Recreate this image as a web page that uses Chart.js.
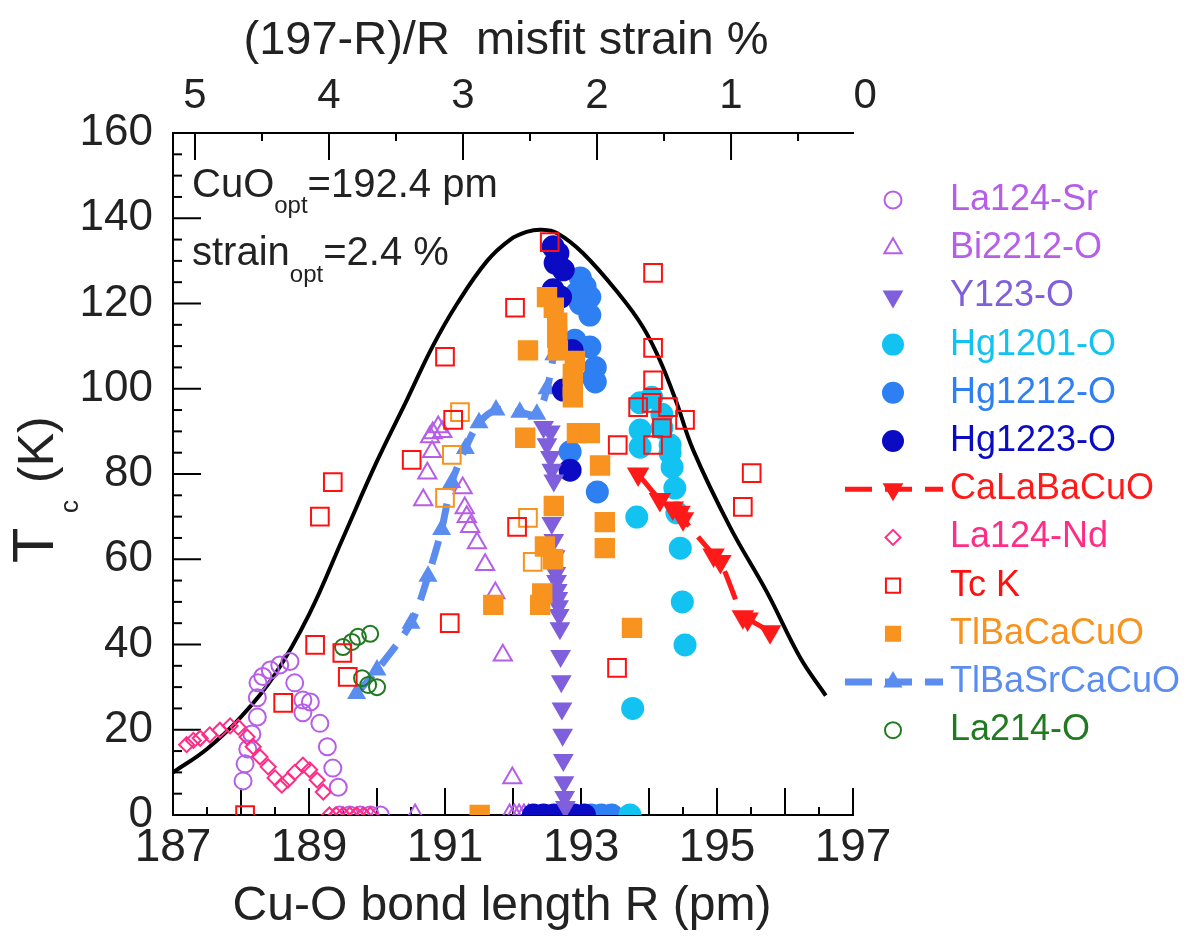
<!DOCTYPE html>
<html>
<head>
<meta charset="utf-8">
<script src="https://cdn.jsdelivr.net/npm/chart.js@4.4.1/dist/chart.umd.min.js"></script>
<style>
  html, body { margin: 0; padding: 0; background: #fff; }
  #wrap { width: 1196px; height: 948px; position: relative; }
</style>
</head>
<body>
<div id="wrap"><canvas id="tcChart"></canvas></div>
<script>
const FONT = '"Liberation Sans", Arial, Helvetica, sans-serif';

// guide curve (bell shape)
const curveR  = [187.0, 187.5, 188.0, 188.5, 189.0, 189.5, 190.0, 190.44, 190.82, 191.18, 191.62, 191.96, 192.2, 192.42, 192.65, 193.03, 193.57, 193.91, 194.16, 194.4, 194.65, 195.19, 195.74, 196.22, 196.6];
const curveTc = [10, 15.5, 23, 33, 47, 65, 83, 97.4, 110, 120, 130, 135, 136.8, 137.3, 136.5, 131.8, 122, 114.5, 106.7, 97, 85.6, 67.6, 52.1, 37, 28];

const la124SrR  = [188.03, 188.06, 188.1, 188.16, 188.24, 188.24, 188.25, 188.32, 188.43, 188.57, 188.72, 188.79, 188.91, 189.02, 188.91, 189.16, 189.27, 189.35, 189.43, 189.45, 189.6, 189.75, 189.9, 190.05];
const la124SrTc = [8, 12, 15.5, 19, 23, 27.5, 31, 32.5, 34, 35.2, 36, 31, 27, 26.5, 24, 21.5, 16, 11, 6.5, 0, 0, 0, 0, 0];

const bi2212R  = [190.9, 190.82, 190.78, 190.96, 190.81, 190.74, 190.68, 191.26, 191.29, 191.32, 191.37, 191.47, 191.59, 191.74, 191.85, 191.99, 190.56, 191.95, 192.02, 192.09, 192.16, 192.23];
const bi2212Tc = [91, 89.6, 88.7, 89.9, 85.2, 80.2, 73.9, 76.7, 72, 70, 67.6, 63.8, 58.7, 52.1, 37.5, 8.7, 0, 0, 0, 0, 0, 0];

const y123R  = [192.45, 192.55, 192.5, 192.55, 192.57, 192.6, 192.57, 192.6, 192.62, 192.63, 192.64, 192.65, 192.66, 192.67, 192.68, 192.69, 192.7, 192.71, 192.72, 192.73, 192.74, 192.75, 192.76, 192.77];
const y123Tc = [91, 90, 87, 84, 81, 78.5, 68.5, 64.5, 60.7, 56.8, 54.9, 52.8, 50.9, 49, 46.9, 43.8, 37.3, 31.4, 25, 18.8, 12.9, 7.7, 4.2, 1.9];

const hg1201R  = [193.87, 194.04, 194.19, 193.87, 193.87, 194.19, 194.31, 194.31, 194.34, 194.38, 194.41, 193.82, 194.46, 194.49, 194.53, 193.76, 193.72];
const hg1201Tc = [96.7, 98, 94, 90.3, 86.3, 90.8, 86.8, 84.9, 81.6, 76.7, 70.9, 69.9, 62.6, 50, 39.9, 25, 0];

const hg1212R  = [192.99, 193.06, 192.94, 193.13, 192.99, 193.13, 192.91, 193.13, 193.21, 193.21, 193.18, 192.84, 193.24, 193.15, 193.3, 193.45];
const hg1212Tc = [126, 124, 122.5, 121.5, 120, 117.3, 111.4, 109.8, 105, 101.6, 102.5, 85.2, 75.8, 0, 0, 0];

const hg1223R  = [192.59, 192.66, 192.62, 192.74, 192.59, 192.7, 192.87, 192.74, 192.84, 192.3, 192.45, 192.6, 192.75, 192.9, 193.05];
const hg1223Tc = [133.3, 131.8, 129.5, 127.9, 123.2, 121.5, 109, 99.7, 80.9, 0, 0, 0, 0, 0, 0];

const caLaBaR  = [193.84, 194.16, 194.35, 194.45, 194.5, 194.95, 195.05, 195.38, 195.45, 195.78];
const caLaBaTc = [80, 74, 72, 71, 69.5, 61, 59.5, 46.5, 46, 43];

const la124NdR  = [187.2, 187.3, 187.4, 187.54, 187.69, 187.84, 187.96, 188.09, 188.18, 188.28, 188.4, 188.5, 188.6, 188.69, 188.79, 188.91, 189.01, 189.12, 189.21, 189.3, 189.4, 189.5, 189.6, 189.7, 189.8, 189.9];
const la124NdTc = [16.5, 17.5, 18, 18.8, 19.9, 20.9, 20.6, 18.3, 16, 13.6, 11.3, 8.7, 7, 8.2, 10, 11.7, 10.6, 8.2, 5.4, 0, 0, 0, 0, 0, 0, 0];

const tcKR  = [192.54, 194.06, 192.03, 191.0, 194.06, 194.06, 193.84, 194.04, 194.28, 194.53, 194.19, 193.54, 194.06, 195.51, 195.38, 190.51, 191.12, 192.06, 191.07, 189.35, 189.16, 189.09, 189.49, 189.57, 188.62, 188.06, 193.53];
const tcKTc = [134.4, 127.2, 119, 107.5, 109.6, 102, 95.7, 96.7, 95.7, 92.7, 90.8, 86.8, 86.8, 80.2, 72.3, 83.3, 92.7, 67.6, 45, 78.1, 70, 39.9, 38, 32.4, 26.3, 0, 34.5];

// open orange squares (not in the legend)
const tlOpenR  = [191.22, 191.1, 191.0, 192.22, 192.29];
const tlOpenTc = [94.5, 84.5, 74.4, 69.7, 59.4];

const tlBaCaR  = [192.5, 192.6, 192.65, 192.65, 192.66, 192.91, 192.88, 192.88, 192.88, 192.22, 192.18, 192.94, 193.13, 193.28, 192.6, 193.35, 192.47, 192.59, 192.43, 192.4, 191.71, 193.35, 193.75, 191.51];
const tlBaCaTc = [121.5, 119, 115.5, 112, 109, 106.5, 103.5, 100.5, 98, 109, 88.5, 89.6, 89.6, 82, 72.5, 68.7, 63, 60, 52, 49.3, 49.3, 62.6, 43.9, 0];

const tlBaSrR  = [189.7, 190.0, 190.5, 190.75, 190.95, 191.1, 191.3, 191.5, 191.75, 192.1, 192.35, 192.5, 192.6];
const tlBaSrTc = [28.5, 34, 45, 56, 67, 78, 86, 92, 95, 94.5, 94, 100, 108];

const la214R  = [189.5, 189.63, 189.72, 189.9, 189.78, 189.87, 190.0];
const la214Tc = [39.4, 40.6, 41.8, 42.5, 32.1, 30.5, 30];

const rTicks = [187, 189, 191, 193, 195, 197];
const strainTicks = [5, 4, 3, 2, 1, 0];

const pts = (xs, ys) => xs.map((x, i) => ({ x: x, y: ys[i] }));

function markers(label, xs, ys, color, style, radius, filled, extra) {
  return Object.assign({
    label: label,
    data: pts(xs, ys),
    pointStyle: style,
    pointRadius: radius,
    pointHoverRadius: radius,
    pointBorderColor: color,
    pointBackgroundColor: filled ? color : 'rgba(0,0,0,0)',
    pointBorderWidth: 2,
    borderColor: color,
    backgroundColor: filled ? color : 'rgba(0,0,0,0)',
    showLine: false,
    inLegend: true
  }, extra || {});
}

const datasets = [
  markers('La124-Sr', la124SrR, la124SrTc, '#b65ee8', 'circle', 8.5, false, { order: 6 }),
  markers('Bi2212-O', bi2212R, bi2212Tc, '#b65ee8', 'triangle', 10.5, false, { order: 6 }),
  markers('Y123-O', y123R, y123Tc, '#7f5fdc', 'triangle', 10, true, { order: 3, pointRotation: 180 }),
  markers('Hg1201-O', hg1201R, hg1201Tc, '#12c3f2', 'circle', 10.5, true, { order: 5 }),
  markers('Hg1212-O', hg1212R, hg1212Tc, '#2e7ff2', 'circle', 10.5, true, { order: 5 }),
  markers('Hg1223-O', hg1223R, hg1223Tc, '#0b0bc4', 'circle', 10.5, true, { order: 4 }),
  markers('CaLaBaCuO', caLaBaR, caLaBaTc, '#ff1a1a', 'triangle', 11, true,
    { order: 3, pointRotation: 180, showLine: true, borderWidth: 5, borderDash: [30, 14], tension: 0.3 }),
  markers('La124-Nd', la124NdR, la124NdTc, '#ff2d86', 'rectRot', 7.5, false, { order: 5 }),
  markers('Tc K', tcKR, tcKTc, '#ff1010', 'rect', 12.5, false, { order: 1 }),
  markers('TlBaCaCuO', tlBaCaR, tlBaCaTc, '#f7931e', 'rect', 13, true, { order: 2 }),
  markers('TlBaSrCaCuO', tlBaSrR, tlBaSrTc, '#5b8df0', 'triangle', 9, true,
    { order: 7, showLine: true, borderWidth: 7, borderDash: [24, 14], tension: 0.3 }),
  markers('La214-O', la214R, la214Tc, '#217a21', 'circle', 8, false, { order: 6 }),
  markers('', tlOpenR, tlOpenTc, '#f7931e', 'rect', 12.5, false, { order: 1, inLegend: false }),
  {
    label: '',
    data: pts(curveR, curveTc),
    showLine: true,
    borderColor: '#000',
    borderWidth: 4,
    pointRadius: 0,
    tension: 0.4,
    order: 9,
    inLegend: false
  }
];

// inward tick marks on all three axes
const tickMarks = {
  id: 'tickMarks',
  beforeDatasetsDraw(chart) {
    const { ctx, chartArea: a, scales } = chart;
    ctx.save();
    ctx.strokeStyle = '#000';
    ctx.lineWidth = 2;
    const seg = (x1, y1, x2, y2) => { ctx.beginPath(); ctx.moveTo(x1, y1); ctx.lineTo(x2, y2); ctx.stroke(); };
    for (let v = 0; v <= 160; v += 5) {
      const py = scales.y.getPixelForValue(v);
      seg(a.left, py, a.left + (v % 20 === 0 ? 28 : 9), py);
    }
    for (let v = 187; v <= 197; v += 0.5) {
      const px = scales.x.getPixelForValue(v);
      seg(px, a.bottom, px, a.bottom - (Number.isInteger(v) ? 27 : 8));
    }
    for (let v = 0.5; v <= 5; v += 0.5) {
      const px = scales.x2.getPixelForValue(v);
      seg(px, a.top, px, a.top + (Number.isInteger(v) ? 27 : 8));
    }
    ctx.restore();
  }
};

// titles, subscripts and the two notes
const texts = {
  id: 'texts',
  afterDraw(chart) {
    const ctx = chart.ctx;
    ctx.save();
    ctx.fillStyle = '#222';
    ctx.textBaseline = 'alphabetic';
    ctx.textAlign = 'left';
    const run = (parts, x, y) => {
      parts.forEach(p => {
        ctx.font = p[1] + 'px ' + FONT;
        ctx.fillText(p[0], x, y + (p[2] || 0));
        x += ctx.measureText(p[0]).width;
      });
    };
    run([['CuO', 40], ['opt', 24, 16], ['=192.4 pm', 40]], 192, 197);
    run([['strain', 40], ['opt', 24, 17], ['=2.4 %', 40]], 192, 265);

    ctx.textAlign = 'center';
    ctx.font = '48px ' + FONT;
    ctx.fillText('Cu-O bond length R (pm)', 502, 920);
    ctx.font = '47px ' + FONT;
    ctx.fillText('(197-R)/R  misfit strain %', 506, 54);

    // rotated y title: T_c (K)
    ctx.translate(53, 563);
    ctx.rotate(-Math.PI / 2);
    ctx.textAlign = 'left';
    ctx.font = '58px ' + FONT;
    ctx.fillText('T', 0, 0);
    ctx.font = '26px ' + FONT;
    ctx.fillText('c', 50, 25);
    ctx.font = '50px ' + FONT;
    ctx.fillText('(K)', 80, 0);
    ctx.restore();
  }
};

// legend on the right, built from the datasets
const sideLegend = {
  id: 'sideLegend',
  afterDraw(chart) {
    const ctx = chart.ctx;
    let y = 200;
    ctx.save();
    ctx.textBaseline = 'middle';
    ctx.textAlign = 'left';
    ctx.font = '36px ' + FONT;
    chart.data.datasets.forEach(ds => {
      if (!ds.inLegend) return;
      if (ds.showLine) {
        ctx.strokeStyle = ds.borderColor;
        ctx.lineWidth = ds.borderWidth;
        ctx.setLineDash([27, 13]);
        ctx.beginPath();
        ctx.moveTo(845, y);
        ctx.lineTo(943, y);
        ctx.stroke();
        ctx.setLineDash([]);
      }
      ctx.strokeStyle = ds.pointBorderColor;
      ctx.fillStyle = ds.pointBackgroundColor;
      ctx.lineWidth = 2;
      Chart.helpers.drawPoint(ctx, {
        pointStyle: ds.pointStyle,
        rotation: ds.pointRotation || 0,
        radius: Math.min(ds.pointRadius, 10),
        borderWidth: 2
      }, 893, y);
      ctx.fillStyle = ds.pointBorderColor;
      ctx.fillText(ds.label, 950, y);
      y += 48.2;
    });
    ctx.restore();
  }
};

const tickFont = size => ({ family: FONT, size: size });

new Chart(document.getElementById('tcChart'), {
  type: 'scatter',
  data: { datasets: datasets },
  options: {
    responsive: true,
    maintainAspectRatio: false,
    animation: false,
    events: [],
    layout: { padding: { left: 0, right: 343, top: 0, bottom: 0 } },
    plugins: { legend: { display: false }, tooltip: { enabled: false } },
    scales: {
      x: {
        type: 'linear', position: 'bottom', min: 187, max: 197,
        afterBuildTicks: s => { s.ticks = rTicks.map(v => ({ value: v })); },
        afterFit: s => { s.height = 133; },
        grid: { display: false, drawTicks: false },
        border: { display: true, color: '#000', width: 2 },
        ticks: { color: '#222', font: tickFont(46), padding: 6, autoSkip: false, maxRotation: 0 }
      },
      x2: {
        type: 'linear', position: 'top', min: 0.09, max: 5.164, reverse: true,
        afterBuildTicks: s => { s.ticks = strainTicks.map(v => ({ value: v })); },
        afterFit: s => { s.height = 133; },
        grid: { display: false, drawTicks: false },
        border: { display: true, color: '#000', width: 2 },
        ticks: { color: '#222', font: tickFont(42), padding: 11, autoSkip: false, maxRotation: 0 }
      },
      y: {
        type: 'linear', min: 0, max: 160,
        afterFit: s => { s.width = 173; },
        grid: { display: false, drawTicks: false },
        border: { display: true, color: '#000', width: 2 },
        ticks: { stepSize: 20, color: '#222', font: tickFont(44), padding: 20 }
      }
    }
  },
  plugins: [tickMarks, texts, sideLegend]
});
</script>
</body>
</html>
